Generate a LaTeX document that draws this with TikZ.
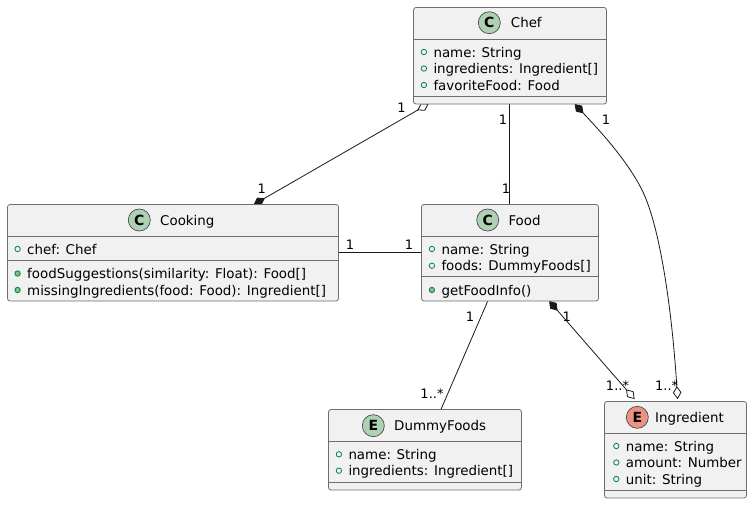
\documentclass[tikz,border=0pt]{standalone}
\usepackage{fontspec}
\setmainfont{DejaVu Sans}
\usepackage{xcolor}
\usetikzlibrary{arrows.meta,backgrounds}
\definecolor{boxfill}{HTML}{F1F1F1}
\definecolor{boxline}{HTML}{6E6E6E}
\definecolor{fieldgreen}{HTML}{038048}
\definecolor{methodgreen}{HTML}{84BE84}
\definecolor{spotgreen}{HTML}{ADD1B2}
\definecolor{spotred}{HTML}{EB937F}
\newcommand{\figtxt}{\fontsize{13.4}{15}\selectfont}
\tikzset{
  x=1pt, y=-1pt,
  comp/.tip={Diamond[length=13pt,width=8.5pt]},
  agg/.tip ={Diamond[open,length=13pt,width=8.5pt]},
  cls/.style   ={rectangle, rounded corners=2.5pt, draw=boxline, fill=boxfill,
                 line width=0.8pt, inner sep=0pt},
  sepl/.style  ={draw=boxline, line width=0.8pt},
  ttl/.style   ={font=\figtxt, anchor=west, inner sep=0pt, text height=11pt, text depth=1pt},
  rowf/.style  ={ttl, label={[fmark]left:{}}},
  rowm/.style  ={ttl, label={[mmark]left:{}}},
  fmark/.style ={circle, draw=fieldgreen, line width=0.8pt, minimum size=5.4pt,
                 inner sep=0pt, label distance=6.3pt},
  mmark/.style ={fmark, fill=methodgreen},
  spotc/.style ={circle, draw=black!70, line width=0.7pt, fill=spotgreen, minimum size=22pt,
                 inner sep=0pt, font=\fontsize{14}{15}\selectfont\bfseries},
  spote/.style ={spotc, fill=spotred},
  con/.style   ={draw=black!90, line width=0.8pt},
  lbl/.style   ={font=\fontsize{13}{15}\selectfont, inner sep=0pt},
}
\begin{document}
\begin{tikzpicture}
\useasboundingbox (0,0) rectangle (752,504);
% ---- class boxes -----------------------------------------------------
\node[cls, minimum width=193pt, minimum height=96.5pt] (chef)   at (510,55.75)   {};
\node[cls, minimum width=331pt, minimum height=96.5pt] (cook)   at (173,252.75)  {};
\node[cls, minimum width=177pt, minimum height=96.5pt] (food)   at (510,252.75)  {};
\node[cls, minimum width=193pt, minimum height=80.5pt] (dummy)  at (425,449.75)  {};
\node[cls, minimum width=142pt, minimum height=96.5pt] (ingr)   at (675.5,449.75) {};

\draw[sepl] (chef.west |- 0,39.5)   -- (chef.east |- 0,39.5);
\draw[sepl] (chef.west |- 0,96.5)   -- (chef.east |- 0,96.5);
\draw[sepl] (cook.west |- 0,236.5)  -- (cook.east |- 0,236.5);
\draw[sepl] (cook.west |- 0,260.5)  -- (cook.east |- 0,260.5);
\draw[sepl] (food.west |- 0,236.5)  -- (food.east |- 0,236.5);
\draw[sepl] (food.west |- 0,276.5)  -- (food.east |- 0,276.5);
\draw[sepl] (dummy.west |- 0,441.5) -- (dummy.east |- 0,441.5);
\draw[sepl] (dummy.west |- 0,482.5) -- (dummy.east |- 0,482.5);
\draw[sepl] (ingr.west |- 0,433.5)  -- (ingr.east |- 0,433.5);
\draw[sepl] (ingr.west |- 0,490.5)  -- (ingr.east |- 0,490.5);

% ---- titles ----------------------------------------------------------
\node[spotc] (chefs)  at (489.3,22.7)  {C};
\node[ttl]   (chefn)  at (510.7,22.7)  {Chef};
\node[spotc] (cooks)  at (139.3,220)   {C};
\node[ttl]   (cookn)  at (160,220)     {Cooking};
\node[spotc] (foods)  at (487.7,220)   {C};
\node[ttl]   (foodn)  at (508.3,220)   {Food};
\node[spotc] (dummys) at (373.3,425.7) {E};
\node[ttl]   (dummyn) at (394,425.7)   {DummyFoods};
\node[spote] (ingrs)  at (637.3,417.3) {E};
\node[ttl]   (ingrn)  at (655,417.3)   {Ingredient};

% ---- members ---------------------------------------------------------
\node[rowf] (chef1)  at (433.3,52)  {name: String};
\node[rowf] (chef2)  at (433.3,68.5) {ingredients: Ingredient[]};
\node[rowf] (chef3)  at (433.3,85)  {favoriteFood: Food};
\node[rowf] (cook1)  at (27,249)    {chef: Chef};
\node[rowm] (cook2)  at (27,273.5)  {foodSuggestions(similarity: Float): Food[]};
\node[rowm] (cook3)  at (27,290)    {missingIngredients(food: Food): Ingredient[]};
\node[rowf] (food1)  at (441.3,249) {name: String};
\node[rowf] (food2)  at (441.3,265.7) {foods: DummyFoods[]};
\node[rowm] (food3)  at (441.3,290) {getFoodInfo()};
\node[rowf] (dummy1) at (348.3,454.3) {name: String};
\node[rowf] (dummy2) at (348.3,470.7) {ingredients: Ingredient[]};
\node[rowf] (ingr1)  at (625.7,446) {name: String};
\node[rowf] (ingr2)  at (625.7,462.5) {amount: Number};
\node[rowf] (ingr3)  at (625.7,479) {unit: String};

% ---- relations, under the boxes --------------------------------------
\begin{scope}[on background layer]
  \draw[con, agg-comp] ([xshift=15.5pt,yshift=0.6pt]chef.south west)
    -- ([xshift=246.5pt,yshift=-0.5pt]cook.north west);
  \draw[con] (chef.south -| 509.5,0) -- (food.north -| 509.5,0);
  \draw[con, comp-agg] ([xshift=161.5pt,yshift=0.5pt]chef.south west)
    .. controls (600,131) and (627,160) .. (642,190)
    .. controls (660,226) and (672,310) .. ([xshift=73.5pt,yshift=2pt]ingr.north west);
  \draw[con] (cook.east |- 0,252.5) -- (food.west |- 0,252.5);
  \draw[con] ([xshift=66.5pt]food.south west) -- ([xshift=113pt]dummy.north west);
  \draw[con, comp-agg] ([xshift=128pt,yshift=0.5pt]food.south west)
    -- ([xshift=30.5pt,yshift=2pt]ingr.north west);
\end{scope}

% ---- multiplicities --------------------------------------------------
\node[lbl] (m1)  at (401.5,107.5) {1};
\node[lbl] (m2)  at (261.7,188.5) {1};
\node[lbl] (m3)  at (503,120)     {1};
\node[lbl] (m4)  at (506,189)     {1};
\node[lbl] (m5)  at (606,120)     {1};
\node[lbl] (m6)  at (666.7,386)   {1..*};
\node[lbl] (m7)  at (350,245)     {1};
\node[lbl] (m8)  at (409,245)     {1};
\node[lbl] (m9)  at (470,317)     {1};
\node[lbl] (m10) at (432,394)     {1..*};
\node[lbl] (m11) at (566.7,317)   {1};
\node[lbl] (m12) at (617.5,386)   {1..*};
\end{tikzpicture}
\end{document}
